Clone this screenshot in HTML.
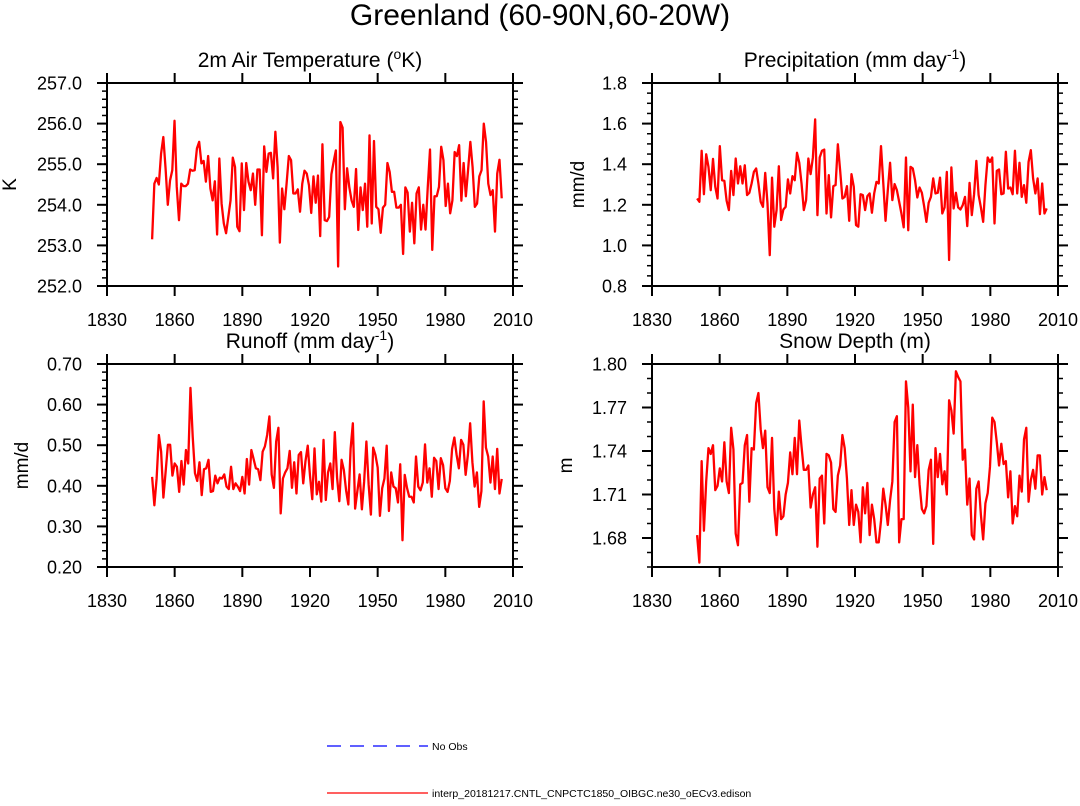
<!DOCTYPE html>
<html><head><meta charset="utf-8"><style>
body{margin:0;background:#fff;}
svg text{font-family:"Liberation Sans",Arial,sans-serif;fill:#000;}
</style></head><body>
<svg id="chart" width="1080" height="801" viewBox="0 0 1080 801" xmlns="http://www.w3.org/2000/svg">
<text x="540" y="25" font-size="30" text-anchor="middle">Greenland (60-90N,60-20W)</text>
<text x="310" y="67" font-size="21" text-anchor="middle">2m Air Temperature (<tspan baseline-shift="super" font-size="14">o</tspan>K)</text>
<text x="855" y="67" font-size="21" text-anchor="middle">Precipitation (mm day<tspan baseline-shift="super" font-size="14">-1</tspan>)</text>
<text x="310" y="348" font-size="21" text-anchor="middle">Runoff (mm day<tspan baseline-shift="super" font-size="14">-1</tspan>)</text>
<text x="855" y="348" font-size="21" text-anchor="middle">Snow Depth (m)</text>
<g>
<line x1="327" y1="746" x2="428" y2="746" stroke="#00f" stroke-width="1.2" stroke-dasharray="14,9"/>
<text x="432" y="750" font-size="10.5">No Obs</text>
<line x1="327" y1="793" x2="428" y2="793" stroke="#f00" stroke-width="1.2"/>
<text x="432" y="797" font-size="10.5">interp_20181217.CNTL_CNPCTC1850_OIBGC.ne30_oECv3.edison</text>
</g>
</svg>
<script>
const xTicks = [1830,1860,1890,1920,1950,1980,2010];
const tasTicks = ["252.0","253.0","254.0","255.0","256.0","257.0"];
const prTicks = ["0.8","1.0","1.2","1.4","1.6","1.8"];
const roTicks = ["0.20","0.30","0.40","0.50","0.60","0.70"];
const snTicks = ["1.68","1.71","1.74","1.77","1.80"];
const tasValues = [253.15,254.52,254.66,254.5,255.26,255.67,254.9,254.0,254.6,254.85,256.07,254.44,253.62,254.52,254.46,254.46,254.52,254.87,254.84,254.85,255.39,255.55,255.02,255.08,254.57,255.2,254.4,254.11,254.58,253.27,255.14,254.03,253.54,253.3,253.7,254.11,255.16,254.93,253.46,253.35,255.02,253.87,255.03,254.57,254.36,254.77,254.0,254.87,254.87,253.25,255.44,254.81,255.26,255.28,254.65,255.8,254.93,253.07,254.4,253.89,254.52,255.2,255.1,254.28,254.28,254.38,253.83,254.52,254.84,254.77,254.48,253.8,254.7,254.05,254.72,253.23,255.49,253.62,253.6,253.7,254.75,255.06,255.34,252.48,256.04,255.9,253.89,254.9,254.43,254.11,253.95,254.88,253.38,254.43,253.87,254.52,253.46,255.71,253.54,255.57,253.95,253.89,253.31,253.93,254.0,255.03,254.81,254.32,254.32,253.93,253.93,254.0,252.79,254.43,254.3,253.34,254.05,253.05,254.28,254.43,253.39,254.0,253.39,254.44,255.36,252.89,254.21,254.21,254.44,255.43,255.1,253.97,254.52,253.79,254.11,255.3,255.2,255.47,254.1,255.03,254.21,254.87,255.55,254.93,253.95,254.03,254.7,254.85,256.0,255.55,254.52,254.24,254.36,253.34,254.77,255.11,254.16];
const prValues = [1.231,1.215,1.466,1.252,1.449,1.387,1.272,1.426,1.289,1.231,1.489,1.321,1.318,1.220,1.174,1.367,1.248,1.428,1.305,1.390,1.305,1.395,1.248,1.259,1.305,1.362,1.379,1.305,1.215,1.190,1.357,1.207,0.952,1.334,1.092,1.174,1.390,1.125,1.177,1.190,1.325,1.256,1.341,1.321,1.456,1.407,1.305,1.174,1.223,1.428,1.351,1.433,1.621,1.149,1.433,1.466,1.472,1.157,1.346,1.138,1.292,1.297,1.498,1.370,1.231,1.239,1.292,1.121,1.351,1.289,1.100,1.092,1.252,1.248,1.174,1.243,1.256,1.161,1.256,1.313,1.305,1.489,1.308,1.121,1.272,1.407,1.223,1.302,1.272,1.215,1.157,1.089,1.433,1.075,1.387,1.379,1.321,1.236,1.285,1.259,1.193,1.116,1.210,1.239,1.330,1.256,1.259,1.334,1.157,1.187,1.362,0.928,1.384,1.182,1.259,1.187,1.177,1.198,1.239,1.095,1.308,1.149,1.252,1.416,1.248,1.187,1.116,1.297,1.433,1.411,1.433,1.108,1.367,1.374,1.252,1.256,1.461,1.280,1.285,1.252,1.466,1.256,1.407,1.239,1.297,1.210,1.411,1.469,1.330,1.256,1.330,1.154,1.305,1.157,1.182];
const roValues = [0.422,0.352,0.418,0.525,0.484,0.371,0.435,0.501,0.501,0.425,0.455,0.447,0.385,0.461,0.403,0.488,0.455,0.641,0.521,0.431,0.412,0.458,0.377,0.441,0.443,0.464,0.385,0.387,0.425,0.406,0.420,0.418,0.428,0.398,0.392,0.447,0.392,0.406,0.398,0.387,0.422,0.381,0.466,0.403,0.488,0.466,0.443,0.441,0.414,0.484,0.497,0.525,0.571,0.428,0.395,0.509,0.543,0.332,0.418,0.433,0.443,0.486,0.395,0.458,0.381,0.476,0.483,0.406,0.461,0.499,0.425,0.367,0.492,0.379,0.410,0.361,0.513,0.365,0.433,0.455,0.392,0.532,0.420,0.362,0.464,0.439,0.389,0.354,0.491,0.554,0.344,0.387,0.428,0.342,0.410,0.509,0.403,0.329,0.494,0.476,0.445,0.326,0.394,0.418,0.499,0.338,0.433,0.398,0.394,0.359,0.453,0.266,0.427,0.395,0.373,0.373,0.359,0.472,0.398,0.389,0.408,0.502,0.408,0.443,0.373,0.469,0.461,0.392,0.468,0.451,0.394,0.385,0.412,0.491,0.519,0.476,0.443,0.513,0.501,0.427,0.476,0.554,0.458,0.398,0.433,0.348,0.387,0.608,0.494,0.472,0.408,0.472,0.392,0.491,0.381,0.417];
const snValues = [1.682,1.663,1.733,1.685,1.719,1.742,1.738,1.744,1.713,1.716,1.728,1.719,1.746,1.719,1.711,1.756,1.741,1.683,1.675,1.717,1.718,1.744,1.751,1.705,1.742,1.741,1.773,1.780,1.755,1.742,1.754,1.715,1.711,1.749,1.700,1.682,1.712,1.693,1.695,1.710,1.718,1.739,1.724,1.749,1.724,1.761,1.743,1.727,1.727,1.730,1.701,1.710,1.715,1.674,1.721,1.723,1.690,1.738,1.737,1.732,1.700,1.698,1.723,1.730,1.751,1.742,1.721,1.689,1.713,1.689,1.703,1.698,1.677,1.715,1.697,1.718,1.682,1.703,1.693,1.677,1.677,1.692,1.714,1.703,1.689,1.706,1.719,1.760,1.764,1.677,1.693,1.693,1.788,1.770,1.726,1.772,1.722,1.744,1.717,1.700,1.697,1.702,1.727,1.734,1.676,1.742,1.722,1.738,1.717,1.726,1.710,1.775,1.768,1.752,1.795,1.791,1.788,1.734,1.741,1.703,1.721,1.682,1.679,1.714,1.719,1.696,1.679,1.704,1.711,1.729,1.763,1.760,1.746,1.730,1.745,1.731,1.733,1.708,1.726,1.690,1.702,1.695,1.723,1.712,1.748,1.756,1.705,1.720,1.727,1.714,1.737,1.737,1.710,1.722,1.713];
const startYear = 1850, endYear = 2005;

const NS = "http://www.w3.org/2000/svg";
const svg = document.getElementById('chart');
function mk(tag, attrs){const e=document.createElementNS(NS,tag);for(const k in attrs)e.setAttribute(k,attrs[k]);return e;}

function panel(key, x0, y0, x1, y1, ymin, ymax, yTicks, minorStep, yTitle, titleX, values){
  const g = mk('g',{});
  
  
  svg.appendChild(g);
  const sx = yr => x0 + (yr - 1830) / 180 * (x1 - x0);
  const sy = v => y1 - (v - ymin) / (ymax - ymin) * (y1 - y0);
  const nMinor = Math.round((ymax - ymin) / minorStep);
  for (let i = 0; i <= nMinor; i++) {
    const y = sy(ymin + i * minorStep);
    const t1 = mk('line',{x1:x0-5,y1:y,x2:x0,y2:y,stroke:'#000','stroke-width':1.5});
    
    
    g.appendChild(t1);
    const t2 = mk('line',{x1:x1,y1:y,x2:x1+5,y2:y,stroke:'#000','stroke-width':1.5});
    
    
    g.appendChild(t2);
  }
  yTicks.forEach(lbl => {
    const y = sy(parseFloat(lbl));
    const t1 = mk('line',{x1:x0-10,y1:y,x2:x0,y2:y,stroke:'#000','stroke-width':2});
    
    
    g.appendChild(t1);
    const t2 = mk('line',{x1:x1,y1:y,x2:x1+10,y2:y,stroke:'#000','stroke-width':2});
    
    
    g.appendChild(t2);
    const tx = mk('text',{x:x0-25,y:y+6.5,'font-size':18,'text-anchor':'end'});
    tx.textContent = lbl;
    
    
    g.appendChild(tx);
  });
  xTicks.forEach(yr => {
    const x = sx(yr);
    const b = mk('line',{x1:x,y1:y1,x2:x,y2:y1+10,stroke:'#000','stroke-width':2});
    
    
    g.appendChild(b);
    const t = mk('line',{x1:x,y1:y0-10,x2:x,y2:y0,stroke:'#000','stroke-width':2});
    
    
    g.appendChild(t);
    const tx = mk('text',{x:x,y:y1+40,'font-size':18,'text-anchor':'middle'});
    tx.textContent = yr;
    
    
    g.appendChild(tx);
  });
  const n = values.length;
  const pts = values.map((v,i) => sx(startYear + i * (endYear - startYear) / (n - 1)).toFixed(2) + ',' + sy(v).toFixed(2)).join(' ');
  const pl = mk('polyline',{points:pts,fill:'none',stroke:'#f00','stroke-width':2.3,'stroke-linejoin':'round'});
  
  
  g.appendChild(pl);
  const fr = mk('rect',{x:x0,y:y0,width:x1-x0,height:y1-y0,fill:'none',stroke:'#000','stroke-width':2});
  
  
  g.appendChild(fr);
  const yt = mk('text',{x:titleX,y:(y0+y1)/2,'font-size':19,'text-anchor':'middle',transform:`rotate(-90 ${titleX} ${(y0+y1)/2})`});
  yt.textContent = yTitle;
  
  
  g.appendChild(yt);
}
panel('tas', 107, 83, 513, 286, 252, 257, tasTicks, 0.2, 'K', 16, tasValues);
panel('prect', 652, 83, 1058, 286, 0.8, 1.8, prTicks, 0.05, 'mm/d', 584, prValues);
panel('runoff', 107, 364, 513, 567, 0.2, 0.7, roTicks, 0.02, 'mm/d', 28, roValues);
panel('snow', 652, 364, 1058, 567, 1.66, 1.80, snTicks, 0.01, 'm', 572, snValues);
</script>
</body></html>
